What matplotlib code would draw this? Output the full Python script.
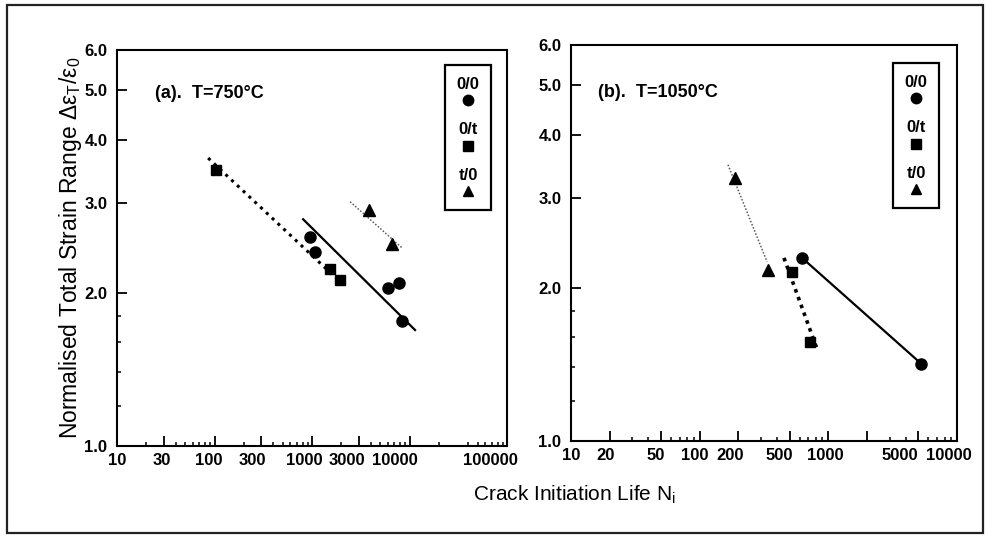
import numpy as np
import matplotlib
matplotlib.use("Agg")
import matplotlib.pyplot as plt
from matplotlib.lines import Line2D
from matplotlib.patches import Rectangle
from matplotlib.transforms import ScaledTranslation
from matplotlib.offsetbox import TextArea, DrawingArea, VPacker, AnchoredOffsetbox

plt.rcParams['font.family'] = ['Liberation Sans', 'DejaVu Sans']
plt.rcParams['mathtext.fontset'] = 'custom'
plt.rcParams['mathtext.rm'] = 'Liberation Sans'
plt.rcParams['mathtext.it'] = 'Liberation Sans'
plt.rcParams['mathtext.default'] = 'regular'

# ---- data ----
# (a) T = 750 C
a_00_N = [950, 1070, 6000, 7800, 8400]
a_00_s = [2.57, 2.41, 2.04, 2.09, 1.76]
a_0t_N = [104, 1530, 1940]
a_0t_s = [3.49, 2.23, 2.12]
a_t0_N = [3850, 6600]
a_t0_s = [2.91, 2.49]
# fitted lines (a)
a_00_fit_N = [810, 11400]
a_00_fit_s = [2.79, 1.69]
a_0t_fit_N = [86, 2290]
a_0t_fit_s = [3.68, 2.04]
a_t0_fit_N = [2460, 8400]
a_t0_fit_s = [3.02, 2.45]

# (b) T = 1050 C
b_00_N = [625, 5250]
b_00_s = [2.29, 1.42]
b_0t_N = [520, 720]
b_0t_s = [2.15, 1.565]
b_t0_N = [188, 340]
b_t0_s = [3.29, 2.17]
# fitted lines (b)
b_00_fit_N = [625, 5250]
b_00_fit_s = [2.29, 1.42]
b_0t_fit_N = [452, 830]
b_0t_fit_s = [2.29, 1.50]
b_t0_fit_N = [166, 334]
b_t0_fit_s = [3.49, 2.25]

legend_labels = ['0/0', '0/t', 't/0']
legend_markers = ['o', 's', '^']

y_ticks = [1.0, 2.0, 3.0, 4.0, 5.0, 6.0]
y_minor = [1.2, 1.4, 1.6, 1.8]

a_xticks = [10, 30, 100, 300, 1000, 3000, 10000, 100000]
a_xminor = [20, 40, 50, 60, 70, 80, 90, 200, 400, 500, 600, 700, 800, 900,
            2000, 4000, 5000, 6000, 7000, 8000, 9000,
            20000, 40000, 50000, 60000, 70000, 80000, 90000]
a_label_shift = [0, -2, -6, -9, -8, -12, -15, -17]   # px, label nudges

b_xticks = [10, 20, 50, 100, 200, 500, 1000, 2000, 5000, 10000]
b_xlabels = ['10', '20', '50', '100', '200', '500', '1000', '', '5000', '10000']
b_xminor = [30, 40, 60, 70, 80, 90, 300, 400, 600, 700, 800, 900,
            3000, 4000, 6000, 7000, 8000, 9000]
b_label_shift = [0, -4, -5, -5, -8, -10, -3, 0, -18, -8]

fig = plt.figure(figsize=(9.86, 5.36), dpi=100)
fig.patches.append(Rectangle((0.007, 0.006), 0.990, 0.985, transform=fig.transFigure,
                             fill=False, lw=1.6, ec='#222222'))

ax1 = fig.add_axes([0.1187, 0.1679, 0.3955, 0.7388])
ax2 = fig.add_axes([0.5791, 0.1772, 0.3915, 0.7388])


def style_axes(ax, xlim, xticks, xlabels, xminor, shifts):
    ax.set_xscale('log')
    ax.set_yscale('log')
    ax.set_xlim(*xlim)
    ax.set_ylim(1.0, 6.0)
    ax.set_yticks(y_ticks)
    ax.set_yticklabels([f'{v:.1f}' for v in y_ticks])
    ax.set_yticks(y_minor, minor=True)
    ax.set_yticklabels([], minor=True)
    ax.set_xticks(xticks)
    ax.set_xticklabels(xlabels)
    ax.set_xticks(xminor, minor=True)
    ax.set_xticklabels([], minor=True)
    ax.tick_params(which='major', direction='in', length=7, width=1.3,
                   labelsize=12, pad=5)
    ax.tick_params(axis='y', which='major', pad=7)
    ax.tick_params(which='minor', direction='in', length=3, width=1.1)
    for lab in ax.get_xticklabels() + ax.get_yticklabels():
        lab.set_fontweight('bold')
    for lab, dx in zip(ax.get_xticklabels(), shifts):
        lab.set_transform(lab.get_transform() +
                          ScaledTranslation(dx / 100, 0, fig.dpi_scale_trans))
    for sp in ax.spines.values():
        sp.set_linewidth(1.5)


def add_key(ax, anchor):
    groups = []
    for lab, mk in zip(legend_labels, legend_markers):
        t = TextArea(lab, textprops=dict(fontsize=12, fontweight='bold'))
        da = DrawingArea(15, 10, 0, 0)
        da.add_artist(Line2D([7.5], [5], marker=mk, ms=7.5, color='k', ls=''))
        groups.append(VPacker(children=[t, da], align='center', pad=0, sep=1))
    pack = VPacker(children=groups, align='center', pad=0, sep=11)
    box = AnchoredOffsetbox(loc='upper left', child=pack, pad=0.85, borderpad=0,
                            frameon=True, bbox_to_anchor=anchor,
                            bbox_transform=ax.transAxes)
    box.patch.set_linewidth(1.6)
    box.patch.set_boxstyle('square', pad=0)
    ax.add_artist(box)


# panel (a)
ax1.plot(a_0t_fit_N, a_0t_fit_s, color='k', ls=(0, (1, 1.6)), lw=2.2)
ax1.plot(a_00_fit_N, a_00_fit_s, color='k', ls='-', lw=1.6)
ax1.plot(a_t0_fit_N, a_t0_fit_s, color='0.35', ls=(0, (1, 1.2)), lw=1.1)
ax1.plot(a_00_N, a_00_s, 'o', color='k', ms=8)
ax1.plot(a_0t_N, a_0t_s, 's', color='k', ms=7)
ax1.plot(a_t0_N, a_t0_s, '^', color='k', ms=8)
style_axes(ax1, (10, 100000), a_xticks,
           ['10', '30', '100', '300', '1000', '3000', '10000', '100000'],
           a_xminor, a_label_shift)
ax1.text(0.097, 0.89, '(a).  T=750°C', transform=ax1.transAxes,
         fontsize=13, fontweight='bold', va='center', ha='left')
add_key(ax1, (0.841, 0.962))

# panel (b)
ax2.plot(b_t0_fit_N, b_t0_fit_s, color='0.35', ls=(0, (1, 1.2)), lw=1.1)
ax2.plot(b_0t_fit_N, b_0t_fit_s, color='k', ls=(0, (1, 1.3)), lw=2.6)
ax2.plot(b_00_fit_N, b_00_fit_s, color='k', ls='-', lw=1.6)
ax2.plot(b_00_N, b_00_s, 'o', color='k', ms=8)
ax2.plot(b_0t_N, b_0t_s, 's', color='k', ms=7)
ax2.plot(b_t0_N, b_t0_s, '^', color='k', ms=8)
style_axes(ax2, (10, 10000), b_xticks, b_xlabels, b_xminor, b_label_shift)
ax2.text(0.07, 0.88, '(b).  T=1050°C', transform=ax2.transAxes,
         fontsize=13, fontweight='bold', va='center', ha='left')
add_key(ax2, (0.834, 0.955))

fig.text(0.071, 0.538, 'Normalised Total Strain Range Δε$_T$/ε$_0$',
         rotation=90, fontsize=16.5, va='center', ha='center')
fig.text(0.583, 0.077, 'Crack Initiation Life N$_i$', fontsize=15,
         va='center', ha='center')

fig.savefig('out.png', dpi=100)
